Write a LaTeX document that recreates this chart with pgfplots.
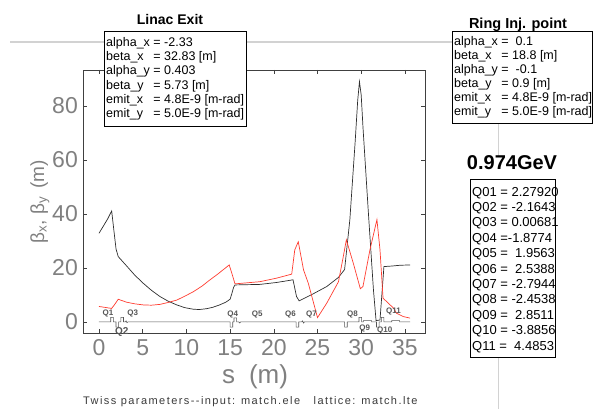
\documentclass[border=0pt]{standalone}
\usepackage{fontspec}
\setmainfont{Liberation Sans}
\newfontfamily\capfont[LetterSpace=13]{Liberation Sans}
\usepackage{pgfplots}
\pgfplotsset{compat=1.18}
\definecolor{betax}{HTML}{2E2E2E}
\definecolor{betay}{HTML}{FF3C30}
\definecolor{tickgray}{HTML}{808080}
\definecolor{latgray}{HTML}{555555}
\definecolor{capgray}{HTML}{3A3A3A}
\definecolor{slidegray}{HTML}{D2D2D2}

\begin{document}
\begin{tikzpicture}
\path (0pt,0pt) rectangle (593pt,409pt);
% guide lines of the slide
\draw[slidegray, line width=1.2pt] (10pt,367pt) -- (452pt,367pt);
\draw[slidegray, line width=1pt] (498pt,286pt) -- (498pt,252pt);
\draw[slidegray, line width=1pt] (498pt,52pt) -- (498pt,0pt);

\begin{axis}[
  at={(83pt,76pt)}, anchor=south west,
  scale only axis, width=342pt, height=263pt,
  xmin=-1.83, xmax=37.3, ymin=-4.1, ymax=93.3,
  xtick={0,5,...,35}, ytick={0,20,...,80},
  tick align=inside, major tick length=4pt,
  axis line style={draw=black!75, line width=0.7pt},
  tick style={draw=black!75, line width=0.6pt},
  /pgf/number format/assume math mode=true,
  ticklabel style={font=\fontsize{23}{23}\selectfont, text=tickgray, inner sep=0pt},
  xticklabel style={yshift=-6pt},
  yticklabel style={xshift=-5pt},
  xlabel={s\hspace{14pt}(m)},
  ylabel={β\textsubscript{x}, β\textsubscript{y}\hspace{8pt}(m)},
  xlabel style={at={(axis description cs:0.503,-0.167)}, anchor=center,
    font=\fontsize{26}{26}\selectfont, text=tickgray},
  ylabel style={at={(axis description cs:-0.126,0.5)}, anchor=center,
    font=\fontsize{19}{19}\selectfont, text=tickgray},
  clip=false
]
% beta_x
\addplot[betax, line width=0.7pt] coordinates {
(0,32.83)(0.5,35.5)(1.0,38.2)(1.45,41.1)(1.7,34)(1.95,27)(2.2,24.2)(3.17,20.7)
(4.1,17.3)(5.07,14.3)(6.0,11.7)(6.98,9.4)(7.9,7.7)(8.9,6.3)(9.8,5.3)(10.8,4.7)
(11.5,4.6)(12.3,4.9)(13.0,5.4)(13.8,6.3)(14.5,7.3)(15.0,8.4)(15.2,10.5)(15.4,12.8)
(15.56,13.7)(18.4,13.9)(20.3,14.6)(22.2,15.6)(22.4,12.5)(22.6,9.4)(22.9,7.8)
(24.5,10.4)(26.05,13.1)(27.4,16.5)(28.1,19.4)(28.7,37.8)(29.3,66.3)(29.6,82)
(29.8,89.0)(30.0,84)(30.2,72.3)(30.8,41.5)(31.4,11.9)(31.7,0.5)(32.15,0.7)
(32.6,20.5)(33.5,20.7)(34.5,21.0)(35.6,21.1)
};
% beta_y
\addplot[betay, line width=0.7pt] coordinates {
(0,5.73)(1.45,5.0)(1.8,6.5)(2.2,8.4)(3.17,7.3)(4.1,6.7)(5.07,6.3)(6.0,6.2)
(6.98,6.5)(7.9,7.2)(8.9,8.1)(9.8,9.5)(10.8,11.2)(11.8,13.3)(12.7,15.6)(13.5,17.5)
(14.2,19.3)(14.9,21.1)(15.2,18)(15.56,14.1)(18.4,14.9)(20.3,16.2)(22.05,17.7)
(22.4,26.7)(22.8,29.7)(23.4,19.3)(23.95,14.3)(25.0,1.6)(26.05,6.9)(27.4,14.9)
(27.95,24.2)(28.3,30.4)(29.1,21.7)(29.9,12.3)(30.2,13.1)(31.0,26.7)(31.8,37.9)
(32.15,26.7)(32.5,8.8)(33.7,5.1)(34.05,3.2)(34.8,2.0)(35.6,1.4)
};
% lattice: quadrupoles and bends on the s axis
\addplot[latgray, line width=0.6pt] coordinates {
(0,0)(1.35,0)(1.35,1.7)(1.65,1.7)(1.65,0)(1.95,0)(1.95,-1.9)(2.25,-1.9)(2.25,0)
(2.5,0)(2.5,1.7)(2.8,1.7)(2.8,0)(3.0,0)(3.1,0.4)(3.2,-0.3)(3.3,0)
(15.0,0)(15.0,-1.9)(15.3,-1.9)(15.3,0)(15.45,0)(15.45,1.5)(15.75,1.5)(15.75,0)
(16.0,0)(16.1,-0.4)(16.2,0)
(22.55,0)(22.55,-1.9)(22.85,-1.9)(22.85,0)(23.2,0)(23.3,0.4)(23.4,-0.4)(23.5,0)
(28.1,0)(28.1,-1.9)(28.4,-1.9)(28.4,0)(29.75,0)(29.75,1.7)(30.05,1.7)(30.05,0)
(30.25,0)(30.25,0.5)(31.2,0.5)(31.2,0)(31.75,0)(31.75,-1.9)(32.05,-1.9)(32.05,0)
(32.3,0)(32.3,1.7)(32.6,1.7)(32.6,0)(33.5,0)(33.5,0.5)(34.4,0.5)(34.4,0)(35.6,0)
};
\begin{scope}[every node/.style={font=\bfseries\fontsize{8}{8}\selectfont, text=latgray, inner sep=0pt}]
\node at (axis cs:1.03,3.3) {Q1};
\node[font=\bfseries\fontsize{10}{10}\selectfont] at (axis cs:2.6,-3.6) {Q2};
\node at (axis cs:3.85,3.3) {Q3};
\node at (axis cs:15.3,2.6) {Q4};
\node at (axis cs:18.1,2.6) {Q5};
\node at (axis cs:21.9,2.6) {Q6};
\node at (axis cs:24.3,2.6) {Q7};
\node at (axis cs:29.0,2.6) {Q8};
\node at (axis cs:30.4,-2.4) {Q9};
\node at (axis cs:32.7,-3.2) {Q10};
\node at (axis cs:33.7,3.8) {Q11};
\end{scope}
\end{axis}

% Linac exit parameters
\node[font=\bfseries\fontsize{14}{14}\selectfont] at (170pt,389pt) {Linac Exit};
\draw[fill=white, line width=0.8pt] (104pt,283pt) rectangle (246pt,378pt);
\node[anchor=west, inner sep=0pt, align=left, font=\fontsize{12.5}{14.3}\selectfont]
  at (106pt,330pt) {%
  \begin{tabular}{@{}l@{ }l@{}}
  alpha\_x & = -2.33\\
  beta\_x  & = 32.83 [m]\\
  alpha\_y & = 0.403\\
  beta\_y  & = 5.73 [m]\\
  emit\_x  & = 4.8E-9 [m-rad]\\
  emit\_y  & = 5.0E-9 [m-rad]
  \end{tabular}};

% ring injection point parameters
\node[font=\bfseries\fontsize{14.5}{14.5}\selectfont] at (518pt,384pt) {Ring Inj. point};
\draw[fill=white, line width=0.8pt] (452pt,286pt) rectangle (592.4pt,378pt);
\node[anchor=west, inner sep=0pt, align=left, font=\fontsize{12.5}{14}\selectfont]
  at (454pt,331pt) {%
  \begin{tabular}{@{}l@{ }l@{}}
  alpha\_x & =\ \ 0.1\\
  beta\_x  & = 18.8 [m]\\
  alpha\_y & =\ \ -0.1\\
  beta\_y  & = 0.9 [m]\\
  emit\_x  & = 4.8E-9 [m-rad]\\
  emit\_y  & = 5.0E-9 [m-rad]
  \end{tabular}};

% energy and quadrupole strengths
\node[font=\bfseries\fontsize{20}{20}\selectfont] at (512pt,246pt) {0.974GeV};
\draw[fill=white, line width=0.8pt] (470pt,52pt) rectangle (555pt,230pt);
\node[anchor=west, inner sep=0pt, align=left, font=\fontsize{13}{15.4}\selectfont]
  at (472pt,139pt) {%
  \begin{tabular}{@{}l@{}}
  Q01 = 2.27920\\
  Q02 = -2.1643\\
  Q03 = 0.00681\\
  Q04 =-1.8774\\
  Q05 =\ \ 1.9563\\
  Q06 =\ \ 2.5388\\
  Q07 = -2.7944\\
  Q08 = -2.4538\\
  Q09 =\ \ 2.8511\\
  Q10 = -3.8856\\
  Q11 =\ \ 4.4853
  \end{tabular}};

\node[anchor=west, inner sep=0pt, font=\capfont\fontsize{11}{11}\selectfont, text=capgray]
  at (83pt,7pt) {Twiss parameters-{}-input: match.ele\ \ \ lattice: match.lte};
\end{tikzpicture}
\end{document}
